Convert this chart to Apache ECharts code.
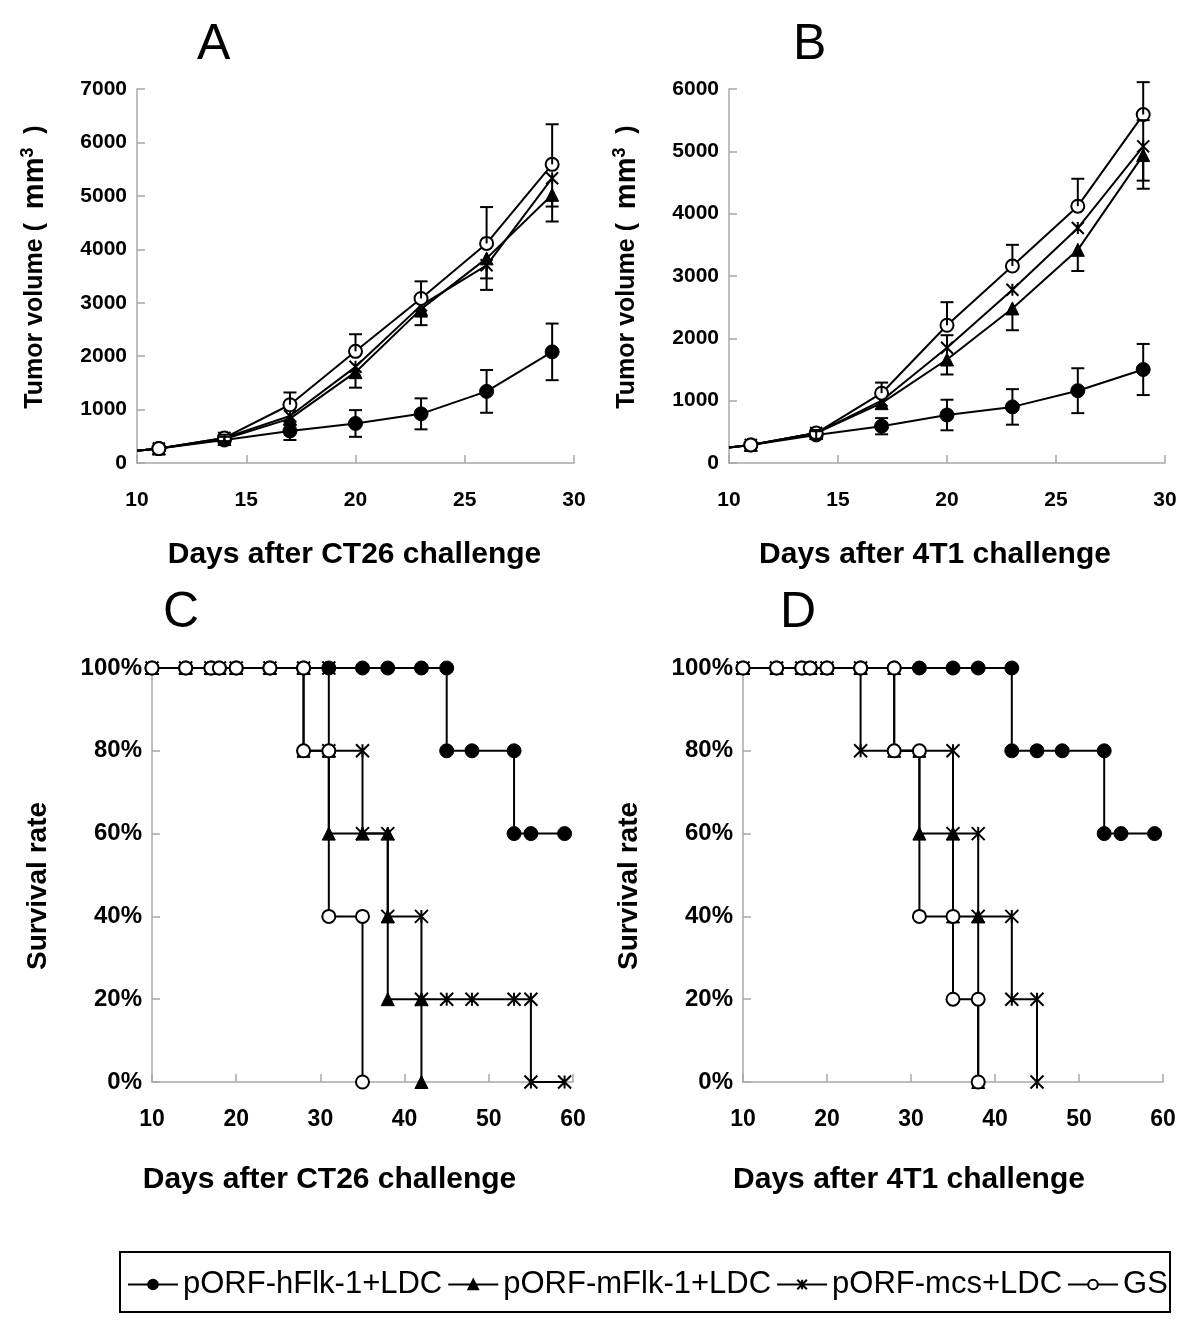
<!DOCTYPE html>
<html><head><meta charset="utf-8">
<script src="https://cdn.jsdelivr.net/npm/echarts@6/dist/echarts.min.js"></script>
<style>html,body{margin:0;padding:0;background:#fff}#c{width:1200px;height:1341px}</style>
</head><body><div id="c"></div>
<script>
// ---------- Data ----------
const seriesNames = ['pORF-hFlk-1+LDC', 'pORF-mFlk-1+LDC', 'pORF-mcs+LDC', 'GS'];
const growthDays = [10, 11, 14, 17, 20, 23, 26, 29];

// Panel A (CT26 tumor volume, mm3)
const A_hFlk = [230, 270, 430, 600, 740, 920, 1340, 2080];
const A_hFlk_errUp = [0, 0, 60, 170, 250, 290, 400, 530];
const A_hFlk_errDn = [0, 0, 60, 170, 250, 290, 400, 530];
const A_mFlk = [230, 270, 450, 830, 1700, 2880, 3830, 5020];
const A_mFlk_errUp = [0, 0, 0, 0, 0, 0, 0, 0];
const A_mFlk_errDn = [0, 0, 60, 120, 290, 300, 375, 500];
const A_mcs = [230, 270, 470, 880, 1800, 2950, 3700, 5330];
const A_mcs_errUp = [0, 0, 0, 0, 0, 0, 0, 0];
const A_mcs_errDn = [0, 0, 60, 0, 0, 210, 460, 530];
const A_GS = [230, 270, 470, 1090, 2090, 3080, 4110, 5590];
const A_GS_errUp = [0, 0, 60, 230, 320, 320, 680, 750];
const A_GS_errDn = [0, 0, 0, 0, 0, 0, 0, 0];

// Panel B (4T1 tumor volume, mm3)
const B_hFlk = [250, 290, 450, 590, 770, 900, 1160, 1500];
const B_hFlk_errUp = [0, 0, 60, 130, 245, 285, 360, 410];
const B_hFlk_errDn = [0, 0, 60, 130, 245, 285, 360, 410];
const B_mFlk = [250, 290, 480, 960, 1660, 2480, 3420, 4940];
const B_mFlk_errUp = [0, 0, 0, 0, 0, 0, 0, 560];
const B_mFlk_errDn = [0, 0, 0, 0, 240, 350, 340, 540];
const B_mcs = [250, 290, 480, 1000, 1850, 2780, 3770, 5080];
const B_mcs_errUp = [0, 0, 0, 0, 200, 0, 0, 0];
const B_mcs_errDn = [0, 0, 0, 0, 0, 0, 0, 550];
const B_GS = [250, 290, 480, 1120, 2210, 3160, 4120, 5590];
const B_GS_errUp = [0, 0, 50, 170, 370, 340, 440, 520];
const B_GS_errDn = [0, 0, 0, 0, 0, 0, 0, 0];

// Panel C (CT26 survival): [day, survival %]
const C_hFlk = [[10,100],[14,100],[17,100],[18,100],[20,100],[24,100],[28,100],[31,100],[35,100],[38,100],[42,100],[45,100],[45,80],[48,80],[53,80],[53,60],[55,60],[59,60]];
const C_mFlk = [[10,100],[14,100],[17,100],[18,100],[20,100],[24,100],[28,100],[28,80],[31,80],[31,60],[35,60],[38,60],[38,40],[38,20],[42,20],[42,0]];
const C_mcs = [[10,100],[14,100],[17,100],[18,100],[20,100],[24,100],[28,100],[31,100],[31,80],[35,80],[35,60],[38,60],[38,40],[42,40],[42,20],[45,20],[48,20],[53,20],[55,20],[55,0],[59,0]];
const C_GS = [[10,100],[14,100],[17,100],[18,100],[20,100],[24,100],[28,100],[28,80],[31,80],[31,40],[35,40],[35,0]];

// Panel D (4T1 survival): [day, survival %]
const D_hFlk = [[10,100],[14,100],[17,100],[18,100],[20,100],[24,100],[28,100],[31,100],[35,100],[38,100],[42,100],[42,80],[45,80],[48,80],[53,80],[53,60],[55,60],[59,60]];
const D_mFlk = [[10,100],[14,100],[17,100],[18,100],[20,100],[24,100],[28,100],[28,80],[31,80],[31,60],[35,60],[35,40],[38,40],[38,0]];
const D_mcs = [[10,100],[14,100],[17,100],[18,100],[20,100],[24,100],[24,80],[35,80],[35,60],[38,60],[38,40],[42,40],[42,20],[45,20],[45,0]];
const D_GS = [[10,100],[14,100],[17,100],[18,100],[20,100],[24,100],[28,100],[28,80],[31,80],[31,40],[35,40],[35,20],[38,20],[38,0]];

// ---------- Styles ----------
const FONT = "'Liberation Sans', Arial, sans-serif";
const STAR = 'path://M0,0L10,10M10,0L0,10M5,0L5,10';
const marker = [
  { symbol: 'circle', itemStyle: { color: '#000', borderColor: '#000', borderWidth: 1 } },
  { symbol: 'triangle', itemStyle: { color: '#000', borderColor: '#000', borderWidth: 1 } },
  { symbol: STAR, itemStyle: { color: '#000', borderColor: '#000', borderWidth: 2 } },
  { symbol: 'circle', itemStyle: { color: '#fff', borderColor: '#000', borderWidth: 2 } }
];
const sizesGrowth = [14, 13, 12, 13];
const sizesSurv = [14, 13, 13, 13];

function growthPoints(vals) {
  return growthDays.map((d, i) => ({
    value: [d, vals[i]],
    symbol: d === 10 ? 'none' : undefined
  }));
}

function lineSeries(idx, data, gi, sizes) {
  return {
    name: seriesNames[idx], type: 'line', xAxisIndex: gi, yAxisIndex: gi,
    data: data, symbol: marker[idx].symbol, symbolSize: sizes[idx],
    showAllSymbol: true, clip: false,
    lineStyle: { color: '#000', width: 2 },
    itemStyle: marker[idx].itemStyle,
    emphasis: { disabled: true }, animation: false, z: 2 + idx * 0.1
  };
}

function errData(vals, ups, dns) {
  const out = [];
  growthDays.forEach((d, i) => { if (ups[i] > 0 || dns[i] > 0) out.push([d, vals[i], ups[i], dns[i]]); });
  return out;
}

function errSeries(gi, data) {
  return {
    type: 'custom', xAxisIndex: gi, yAxisIndex: gi, data: data, z: 5, silent: true,
    animation: false, clip: false,
    encode: { x: 0, y: 1 },
    renderItem: function (params, api) {
      const x = api.value(0), y = api.value(1), up = api.value(2), dn = api.value(3);
      const top = api.coord([x, y + up]);
      const bot = api.coord([x, y - dn]);
      const cw = 6.5;
      const st = { stroke: '#000', lineWidth: 2 };
      const children = [{ type: 'line', shape: { x1: top[0], y1: top[1], x2: bot[0], y2: bot[1] }, style: st }];
      if (up > 0) children.push({ type: 'line', shape: { x1: top[0] - cw, y1: top[1], x2: top[0] + cw, y2: top[1] }, style: st });
      if (dn > 0) children.push({ type: 'line', shape: { x1: bot[0] - cw, y1: bot[1], x2: bot[0] + cw, y2: bot[1] }, style: st });
      return { type: 'group', children: children };
    }
  };
}

const axisLine = { show: true, lineStyle: { color: '#a8a8a8', width: 1.5 } };
const axisTick = { show: true, inside: true, length: 8, lineStyle: { color: '#a8a8a8', width: 1.5 } };
const tickFont = { color: '#000', fontFamily: FONT, fontWeight: 'bold' };
const nameFont = { color: '#000', fontFamily: FONT, fontWeight: 'bold', fontSize: 30 };

function xAxis(gi, name, min, max, interval, gap, margin, fs, shiftLeft) {
  return {
    type: 'value', gridIndex: gi, min: min, max: max, interval: interval,
    name: name, nameLocation: 'middle', nameGap: gap,
    nameTextStyle: Object.assign({ padding: [0, shiftLeft * 2, 0, 0] }, nameFont),
    axisLine: axisLine, axisTick: axisTick, splitLine: { show: false },
    axisLabel: Object.assign({ fontSize: fs, margin: margin, formatter: v => String(v) }, tickFont)
  };
}
function yAxis(gi, name, max, interval, gap, fmt, fs, nfs, pad) {
  const nf = Object.assign({}, nameFont, { fontSize: nfs });
  return {
    type: 'value', gridIndex: gi, min: 0, max: max, interval: interval,
    name: name, nameLocation: 'middle', nameGap: gap,
    nameTextStyle: Object.assign({
      padding: pad,
      rich: {
        n: nf,
        m: Object.assign({}, nf, { fontSize: 29 }),
        sup: { fontSize: 18, fontWeight: 'bold', fontFamily: FONT, color: '#000', verticalAlign: 'top', padding: [0, 0, 14, 0] }
      }
    }, nf),
    axisLine: axisLine, axisTick: axisTick, splitLine: { show: false },
    axisLabel: Object.assign({ fontSize: fs, margin: 10, formatter: fmt }, tickFont)
  };
}

const series = [];
const growthSets = [
  [A_hFlk, A_mFlk, A_mcs, A_GS],
  [B_hFlk, B_mFlk, B_mcs, B_GS]
];
const errSets = [
  [[A_hFlk, A_hFlk_errUp, A_hFlk_errDn], [A_mFlk, A_mFlk_errUp, A_mFlk_errDn], [A_mcs, A_mcs_errUp, A_mcs_errDn], [A_GS, A_GS_errUp, A_GS_errDn]],
  [[B_hFlk, B_hFlk_errUp, B_hFlk_errDn], [B_mFlk, B_mFlk_errUp, B_mFlk_errDn], [B_mcs, B_mcs_errUp, B_mcs_errDn], [B_GS, B_GS_errUp, B_GS_errDn]]
];
[0, 1].forEach(gi => {
  growthSets[gi].forEach((vals, idx) => series.push(lineSeries(idx, growthPoints(vals), gi, sizesGrowth)));
  let ed = [];
  errSets[gi].forEach(s => { ed = ed.concat(errData(s[0], s[1], s[2])); });
  series.push(errSeries(gi, ed));
});
[[C_hFlk, C_mFlk, C_mcs, C_GS], [D_hFlk, D_mFlk, D_mcs, D_GS]].forEach((set, k) => {
  set.forEach((d, idx) => series.push(lineSeries(idx, d, 2 + k, sizesSurv)));
});

const volName = '{n|Tumor volume (  }{m|mm}{sup|3}{n|  )}';
const pct = v => v + '%';
const plain = v => String(v);

const chart = echarts.init(document.getElementById('c'), null, { renderer: 'canvas' });
chart.setOption({
  backgroundColor: '#fff',
  animation: false,
  grid: [
    { left: 137, top: 89, width: 437, height: 374 },
    { left: 729, top: 89, width: 436, height: 374 },
    { left: 152, top: 668, width: 421, height: 414 },
    { left: 743, top: 668, width: 420, height: 414 }
  ],
  xAxis: [
    xAxis(0, 'Days after CT26 challenge', 10, 30, 5, 77, 27, 21, 1),
    xAxis(1, 'Days after 4T1 challenge', 10, 30, 5, 77, 27, 21, 12),
    xAxis(2, 'Days after CT26 challenge', 10, 60, 10, 83, 26, 23, 33),
    xAxis(3, 'Days after 4T1 challenge', 10, 60, 10, 83, 26, 23, 44)
  ],
  yAxis: [
    yAxis(0, volName, 7000, 1000, 86, plain, 21, 25, [0, 0, 0, 18]),
    yAxis(1, volName, 6000, 1000, 86, plain, 21, 25, [0, 0, 0, 18]),
    yAxis(2, 'Survival rate', 100, 20, 100, pct, 24, 28, [0, 22, 0, 0]),
    yAxis(3, 'Survival rate', 100, 20, 100, pct, 24, 28, [0, 22, 0, 0])
  ],
  legend: {
    left: 122, top: 1264, itemGap: 5, itemWidth: 50, itemHeight: 12,
    data: seriesNames, selectedMode: false,
    textStyle: { fontFamily: FONT, fontSize: 31, color: '#000' }
  },
  graphic: [
    { type: 'rect', shape: { x: 120, y: 1252, width: 1050, height: 60 }, style: { fill: 'none', stroke: '#000', lineWidth: 2 } },
    { type: 'text', left: 197, top: 20, style: { text: 'A', font: "normal 50px 'Liberation Sans', Arial, sans-serif", fill: '#000' } },
    { type: 'text', left: 793, top: 20, style: { text: 'B', font: "normal 50px 'Liberation Sans', Arial, sans-serif", fill: '#000' } },
    { type: 'text', left: 163, top: 588, style: { text: 'C', font: "normal 50px 'Liberation Sans', Arial, sans-serif", fill: '#000' } },
    { type: 'text', left: 780, top: 588, style: { text: 'D', font: "normal 50px 'Liberation Sans', Arial, sans-serif", fill: '#000' } }
  ],
  series: series
});
</script></body></html>
